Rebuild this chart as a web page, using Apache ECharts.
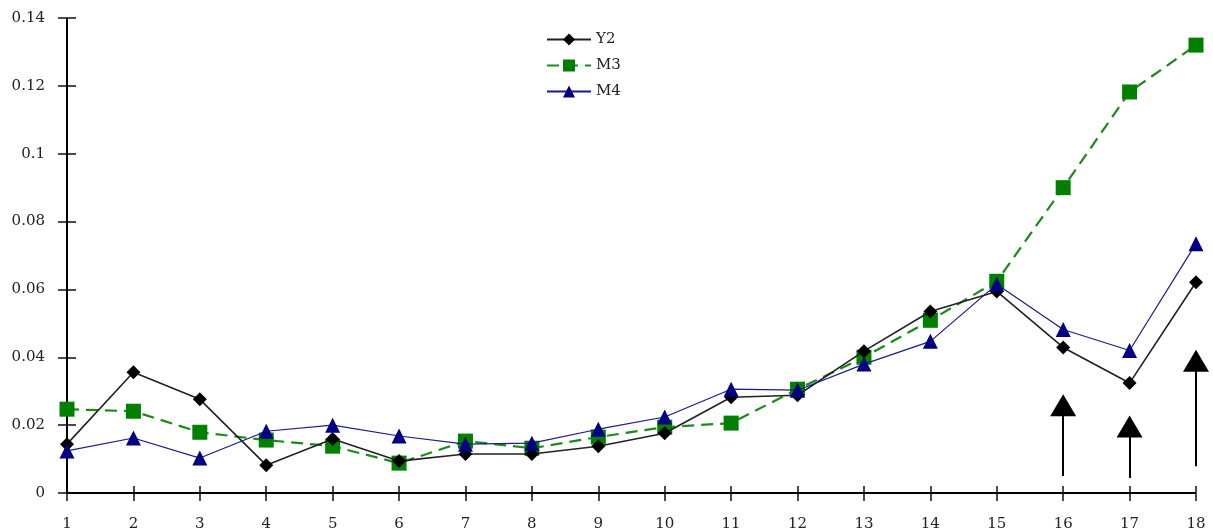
<!DOCTYPE html>
<html>
<head>
<meta charset="utf-8">
<script src="https://cdn.jsdelivr.net/npm/echarts@6/dist/echarts.min.js"></script>
<style>
html,body{margin:0;padding:0;background:#fff;}
#chart{width:1213px;height:532px;}
</style>
</head>
<body>
<div id="chart"></div>
<script>
var categories = ['1','2','3','4','5','6','7','8','9','10','11','12','13','14','15','16','17','18'];
var yTicks = [0, 0.02, 0.04, 0.06, 0.08, 0.1, 0.12, 0.14];
var Y2 = [0.0144,0.0356,0.0276,0.0082,0.0159,0.0094,0.0115,0.0115,0.0138,0.0176,0.0282,0.0288,0.0418,0.0535,0.0594,0.0429,0.0324,0.0621];
var M3 = [0.0247,0.0241,0.0179,0.0156,0.0138,0.0088,0.0153,0.0132,0.0165,0.0194,0.0206,0.0306,0.0400,0.0509,0.0624,0.0900,0.1182,0.1320];
var M4 = [0.0124,0.0162,0.0103,0.0182,0.0200,0.0168,0.0144,0.0147,0.0188,0.0224,0.0306,0.0303,0.0380,0.0447,0.0615,0.0482,0.0420,0.0735];
// arrow annotations: category, tail value, head-centre value
var arrowCats = ['16','17','18'];
var arrowTail = [0.0050, 0.0044, 0.0079];
var arrowHead = [0.0259, 0.0196, 0.0390];

var font = 'DejaVu Serif';
var axisColor = '#111';
var marks = arrowCats.map(function(c,i){
  return [{coord:[c, arrowTail[i]], symbol:'none'}, {coord:[c, arrowHead[i]], symbol:'triangle', symbolSize:[26,22]}];
});
// axis lines drawn through the scales (y-axis at first category, x-axis at value 0)
marks.push([{coord:[categories[0], yTicks[0]], symbol:'none'}, {coord:[categories[0], yTicks[yTicks.length-1]], symbol:'none'}]);
marks.push([{coord:[categories[0], yTicks[0]], symbol:'none'}, {coord:[categories[categories.length-1], yTicks[0]], symbol:'none'}]);

var chart = echarts.init(document.getElementById('chart'), null, {renderer:'canvas'});
chart.setOption({
  animation:false,
  backgroundColor:'#fff',
  textStyle:{fontFamily:font},
  grid:{left:67, right:17, top:18, bottom:38, containLabel:false},
  legend:{
    orient:'vertical', left:541, top:27, itemWidth:44, itemHeight:15, itemGap:11,
    textStyle:{fontFamily:font, fontSize:15, color:'#222'},
    data:['Y2','M3','M4']
  },
  xAxis:{
    type:'category', data:categories, boundaryGap:false, offset:-7,
    axisLine:{show:false},
    axisTick:{show:true, inside:false, length:15, alignWithLabel:true, lineStyle:{color:axisColor, width:1.5}},
    axisLabel:{margin:31, fontFamily:font, fontSize:15, color:'#222'},
    splitLine:{show:false}
  },
  yAxis:{
    type:'value', min:yTicks[0], max:yTicks[yTicks.length-1], interval:0.02, offset:-9,
    axisLine:{show:false},
    axisTick:{show:true, inside:false, length:18, lineStyle:{color:axisColor, width:1.5}},
    axisLabel:{margin:31, fontFamily:font, fontSize:15, color:'#222', formatter:function(v){return String(+v.toFixed(2));}},
    splitLine:{show:false}
  },
  series:[
    {name:'Y2', type:'line', data:Y2, symbol:'diamond', symbolSize:14, showAllSymbol:true,
     itemStyle:{color:'#000'}, lineStyle:{color:'#222', width:1.6}, z:3,
     markLine:{silent:true, animation:false, label:{show:false}, z:1,
       lineStyle:{color:'#000', width:2, type:'solid'}, symbol:['none','triangle'], symbolSize:[26,22],
       data:marks}
    },
    {name:'M3', type:'line', data:M3, symbol:'rect', symbolSize:15, showAllSymbol:true,
     itemStyle:{color:'#008000'}, lineStyle:{color:'#1a8a1a', width:2.2, type:[12,7]}, z:2},
    {name:'M4', type:'line', data:M4, symbol:'triangle', symbolSize:15, showAllSymbol:true,
     itemStyle:{color:'#000080'}, lineStyle:{color:'#1a1a8a', width:1.2}, z:4}
  ]
});
</script>
</body>
</html>
